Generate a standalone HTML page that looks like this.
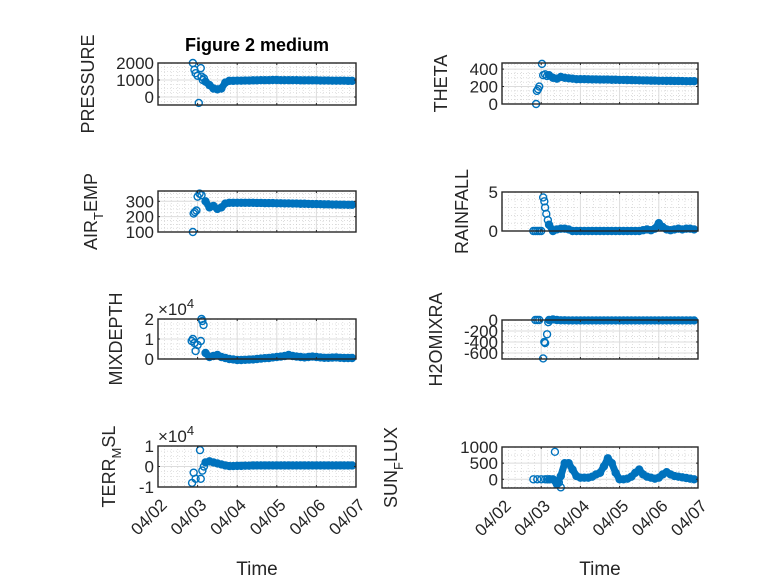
<!DOCTYPE html>
<html><head><meta charset="utf-8"><style>
body{margin:0;background:#fff}
svg{display:block;font-family:"Liberation Sans",sans-serif}
</style></head><body>
<svg id="fig" width="778" height="583"></svg>
<script>
const denseT=[1.2,1.3,1.4,1.5,1.6,1.7,1.8,1.9,2.0,2.1,2.2,2.3,2.4,2.5,2.6,2.7,2.8,2.9,3.0,3.1,3.2,3.3,3.4,3.5,3.6,3.7,3.8,3.9,4.0,4.1,4.2,4.3,4.4,4.5,4.6,4.7,4.8,4.9];
const xTickLabels=["04/02","04/03","04/04","04/05","04/06","04/07"];
// PRESSURE
const pressEarlyT=[0.88,0.92,0.95,1.0,1.03,1.08,1.1,1.13,1.16];
const pressEarlyY=[2000,1600,1400,1250,-350,1700,1200,1000,1100];
const pressDense=[900,700,500,450,500,850,950,950,960,960,970,970,980,980,990,990,990,1000,1000,990,990,990,990,990,980,980,980,980,980,970,970,970,960,960,960,960,950,950];
// THETA
const thetaEarlyT=[0.87,0.89,0.92,0.95,1.02,1.05,1.1,1.15];
const thetaEarlyY=[0,150,170,200,460,330,340,320];
const thetaDense=[330,300,290,310,300,295,290,285,285,285,283,282,282,280,280,280,278,278,276,276,275,274,273,272,270,270,268,268,266,266,265,265,264,264,263,262,262,262];
// AIR_TEMP
const airEarlyT=[0.88,0.9,0.93,0.97,1.0,1.05,1.1];
const airEarlyY=[100,220,230,240,330,350,340];
const airDense=[300,260,270,250,260,285,290,290,290,290,290,290,290,289,289,288,288,288,287,287,286,286,285,285,284,284,283,282,282,281,280,280,279,279,278,278,277,277];
// RAINFALL
const rainEarlyT=[0.8,0.85,0.9,0.95,1.0,1.05,1.08,1.1,1.13,1.17];
const rainEarlyY=[0,0,0,0,0,4.3,3.8,3.0,2.2,1.4];
const rainDense=[0.8,0,0.2,0.3,0.3,0.2,0,0,0,0,0,0,0,0,0,0,0,0,0,0,0,0,0,0,0.1,0.2,0.1,0.3,1.0,0.5,0.2,0.1,0.2,0.3,0.2,0.3,0.3,0.2];
// MIXDEPTH (x1e4)
const mixEarlyT=[0.85,0.88,0.92,0.95,1.0,1.08,1.1,1.12,1.15];
const mixEarlyY=[0.9,1.0,0.8,0.4,0.7,0.9,2.0,1.9,1.7];
const mixDense=[0.3,0.1,0.15,0.2,0.1,0.05,0,-0.02,-0.05,-0.05,-0.04,-0.03,-0.02,0,0.02,0.04,0.05,0.08,0.1,0.12,0.15,0.2,0.15,0.12,0.1,0.08,0.1,0.12,0.1,0.08,0.06,0.06,0.07,0.08,0.06,0.05,0.05,0.05];
// TERR_MSL (x1e4)
const terrEarlyT=[0.86,0.9,0.95,1.06,1.08,1.12,1.16];
const terrEarlyY=[-0.8,-0.3,-0.6,0.8,-0.6,-0.2,0];
const terrDense=[0.2,0.25,0.2,0.15,0.1,0.05,0.02,0.02,0.03,0.03,0.04,0.04,0.05,0.05,0.05,0.05,0.05,0.05,0.05,0.05,0.05,0.05,0.05,0.05,0.05,0.05,0.05,0.05,0.05,0.05,0.05,0.05,0.05,0.05,0.05,0.05,0.05,0.05];
// H2OMIXRA
const h2oEarlyT=[0.85,0.9,0.95,1.05,1.08,1.1,1.15,1.18];
const h2oEarlyY=[0,0,0,-700,-400,-420,-260,-40];
const h2oDense=[0,10,0,-5,-5,-8,-8,-8,-8,-8,-8,-8,-8,-8,-8,-8,-8,-8,-8,-8,-8,-8,-8,-8,-8,-8,-8,-8,-8,-8,-8,-8,-8,-8,-8,-8,-8,-8];
// SUN_FLUX
const sunEarlyT=[0.8,0.9,1.0,1.1,1.15,1.22,1.35,1.45,1.5];
const sunEarlyY=[0,0,0,0,0,0,850,-100,-250];
const sunDense=[0,0,-150,100,500,500,300,100,50,50,50,80,150,200,400,650,500,200,0,0,20,80,200,300,150,80,50,20,50,150,220,150,100,80,60,40,20,0];

const svg=document.getElementById('fig');
const NS='http://www.w3.org/2000/svg';
function mk(tag,attrs,parent){const e=document.createElementNS(NS,tag);for(const k in attrs)e.setAttribute(k,attrs[k]);(parent||svg).appendChild(e);return e;}
const BLUE='#0072BD';
const panels=[
 {name:'pressure',x0:158,x1:356,y0:63,y1:105,ymin:-470,ymax:2000,ticks:[0,1000,2000],minor:[-250,250,500,750,1250,1500,1750],eT:pressEarlyT,eY:pressEarlyY,d:pressDense,label:['PRESSURE'],lx:94,bottom:false},
 {name:'theta',x0:502,x1:698,y0:63,y1:104,ymin:0,ymax:470,ticks:[0,200,400],minor:[50,100,150,250,300,350,450],eT:thetaEarlyT,eY:thetaEarlyY,d:thetaDense,label:['THETA'],lx:447,bottom:false},
 {name:'air-temp',x0:158,x1:356,y0:191,y1:232,ymin:100,ymax:367,ticks:[100,200,300],minor:[125,150,175,225,250,275,325,350],eT:airEarlyT,eY:airEarlyY,d:airDense,label:['AIR','T','EMP'],lx:97,bottom:false},
 {name:'rainfall',x0:502,x1:698,y0:192,y1:231,ymin:0,ymax:5,ticks:[0,5],minor:[1,2,3,4],eT:rainEarlyT,eY:rainEarlyY,d:rainDense,label:['RAINFALL'],lx:468,bottom:false},
 {name:'mixdepth',x0:158,x1:356,y0:319,y1:359,ymin:0,ymax:2,ticks:[0,1,2],minor:[0.25,0.5,0.75,1.25,1.5,1.75],eT:mixEarlyT,eY:mixEarlyY,d:mixDense,label:['MIXDEPTH'],lx:122,bottom:false,exp:true},
 {name:'h2omixra',x0:502,x1:698,y0:320,y1:359,ymin:-710,ymax:0,ticks:[-600,-400,-200,0],minor:[-700,-500,-300,-100],eT:h2oEarlyT,eY:h2oEarlyY,d:h2oDense,label:['H2OMIXRA'],lx:442,bottom:false},
 {name:'terr-msl',x0:158,x1:356,y0:446,y1:487,ymin:-1,ymax:1,ticks:[-1,0,1],minor:[-0.75,-0.5,-0.25,0.25,0.5,0.75],eT:terrEarlyT,eY:terrEarlyY,d:terrDense,label:['TERR','M','SL'],lx:115,bottom:true,exp:true},
 {name:'sun-flux',x0:502,x1:698,y0:447,y1:488,ymin:-270,ymax:1000,ticks:[0,500,1000],minor:[-250,250,750],eT:sunEarlyT,eY:sunEarlyY,d:sunDense,label:['SUN','F','LUX'],lx:397,bottom:true}
];

panels.forEach(p=>{
 const g=mk('g',{});
 
 
 const sx=t=>p.x0+(t/5)*(p.x1-p.x0);
 const sy=v=>p.y1-(v-p.ymin)/(p.ymax-p.ymin)*(p.y1-p.y0);
 mk('rect',{x:p.x0,y:p.y0,width:p.x1-p.x0,height:p.y1-p.y0,fill:'#fff'},g);
 for(let d=0;d<5;d++)for(let k=1;k<6;k++){const x=sx(d+k/6);mk('line',{x1:x,x2:x,y1:p.y0,y2:p.y1,stroke:'#c8c8c8','stroke-width':0.6,'stroke-dasharray':'1 2'},g);}
 p.minor.forEach(v=>{const y=sy(v);if(y>p.y0&&y<p.y1)mk('line',{x1:p.x0,x2:p.x1,y1:y,y2:y,stroke:'#c8c8c8','stroke-width':0.6,'stroke-dasharray':'1 2'},g);});
 for(let d=1;d<5;d++){const x=sx(d);mk('line',{x1:x,x2:x,y1:p.y0,y2:p.y1,stroke:'#dcdcdc','stroke-width':1},g);}
 p.ticks.forEach(v=>{const y=sy(v);mk('line',{x1:p.x0,x2:p.x1,y1:y,y2:y,stroke:'#dcdcdc','stroke-width':1},g);});
 const band=mk('polyline',{points:denseT.map((t,i)=>sx(t)+','+sy(p.d[i])).join(' '),fill:'none',stroke:BLUE,'stroke-width':7,'stroke-linejoin':'round','stroke-linecap':'round'},g);
 
 
 const pts=[];
 p.eT.forEach((t,i)=>pts.push([t,p.eY[i]]));
 denseT.forEach((t,i)=>pts.push([t,p.d[i]]));
 pts.forEach(([t,v])=>{const c=mk('circle',{cx:sx(t),cy:sy(v),r:3.5,fill:'none',stroke:BLUE,'stroke-width':1.4},g);
  
  });
 mk('rect',{x:p.x0,y:p.y0,width:p.x1-p.x0,height:p.y1-p.y0,fill:'none',stroke:'#262626','stroke-width':1.4},g);
 for(let d=0;d<=5;d++){const x=sx(d);mk('line',{x1:x,x2:x,y1:p.y1,y2:p.y1-2,stroke:'#262626'},g);mk('line',{x1:x,x2:x,y1:p.y0,y2:p.y0+2,stroke:'#262626'},g);}
 p.ticks.forEach(v=>{const y=sy(v);mk('line',{x1:p.x0,x2:p.x0+2,y1:y,y2:y,stroke:'#262626'},g);mk('line',{x1:p.x1,x2:p.x1-2,y1:y,y2:y,stroke:'#262626'},g);
  const tx=mk('text',{x:p.x0-4,y:y+6,'text-anchor':'end','font-size':17,fill:'#262626'},g);tx.textContent=String(v);
  
  });
 if(p.exp){const e=mk('text',{x:p.x0,y:p.y0-4,'font-size':17,fill:'#262626'},g);e.textContent='×10';
  const s=mk('tspan',{dy:-7,'font-size':13},e);s.textContent='4';
  
  }
 const cy=(p.y0+p.y1)/2;
 const lab=mk('text',{x:0,y:0,transform:`translate(${p.lx},${cy}) rotate(-90)`,'text-anchor':'middle','font-size':18,fill:'#262626'},g);
 
 
 if(p.label.length===1)lab.textContent=p.label[0];
 else{const a=mk('tspan',{},lab);a.textContent=p.label[0];const b=mk('tspan',{dy:6,'font-size':13},lab);b.textContent=p.label[1];const c=mk('tspan',{dy:-6},lab);c.textContent=p.label[2];}
 if(p.bottom){
  xTickLabels.forEach((s,i)=>{const x=sx(i);const t=mk('text',{x:0,y:0,transform:`translate(${x+10},${p.y1+19}) rotate(-45)`,'text-anchor':'end','font-size':17,fill:'#262626'},g);t.textContent=s;
   
   });
  const xt=mk('text',{x:(p.x0+p.x1)/2,y:575,'text-anchor':'middle','font-size':19,fill:'#262626'},g);xt.textContent='Time';
  
  
 }
});
const title=mk('text',{x:257,y:51,'text-anchor':'middle','font-size':18,'font-weight':'bold',fill:'#000'});
title.textContent='Figure 2 medium';


</script>
</body></html>
